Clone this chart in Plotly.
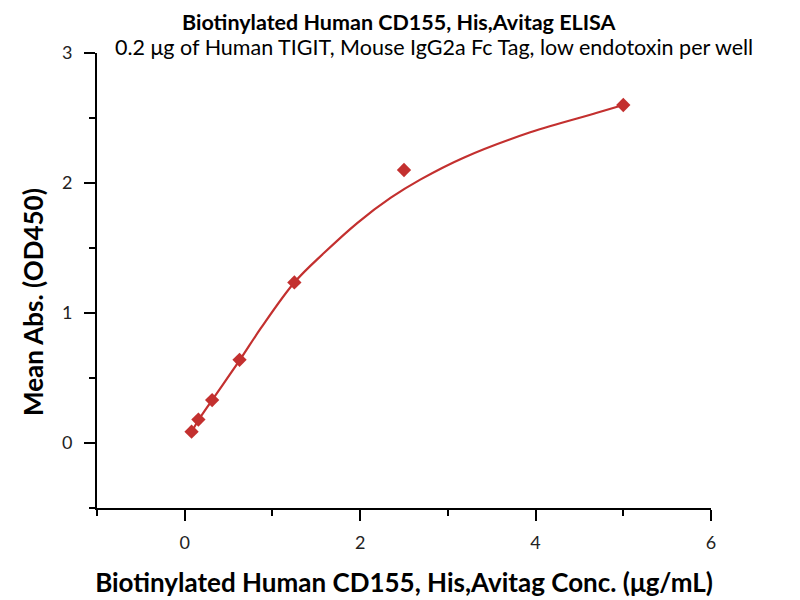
import plotly.graph_objects as go

# measured points (conc in ug/mL, OD450)
conc = [0.078, 0.156, 0.3125, 0.625, 1.25, 2.5, 5.0]
od450 = [0.087, 0.18, 0.33, 0.64, 1.235, 2.10, 2.60]

# fitted curve
fit_x = [0.078, 0.156, 0.3125, 0.625, 0.87, 1.25, 1.59, 1.97, 2.35, 2.69, 3.18, 3.94, 4.70, 5.0]
fit_y = [0.085, 0.175, 0.33, 0.635, 0.885, 1.235, 1.463, 1.694, 1.887, 2.028, 2.195, 2.39, 2.54, 2.60]

red = "#C3302F"
font = "Lato"

fig = go.Figure()
fig.add_trace(go.Scatter(x=fit_x, y=fit_y, mode="lines", line=dict(color=red, width=2.2, shape="spline"),
                         hoverinfo="skip"))
fig.add_trace(go.Scatter(x=conc, y=od450, mode="markers",
                         marker=dict(symbol="diamond", size=11, color=red)))

axis_common = dict(showline=True, linecolor="black", linewidth=2, ticks="outside", tickwidth=2,
                   ticklen=11, tickcolor="black", showgrid=False, zeroline=False,
                   tickfont=dict(family=font, size=18, color="#222"))

fig.update_xaxes(range=[-1, 6], tick0=0, dtick=2, ticklabelstandoff=6,
                 minor=dict(dtick=1, ticks="outside", ticklen=6, tickwidth=2, tickcolor="black"),
                 title=dict(text="<b>Biotinylated Human CD155, His,Avitag Conc. (μg/mL)</b>",
                            font=dict(family=font, size=26, color="black"), standoff=22),
                 **axis_common)
fig.update_yaxes(range=[-0.5, 3], tick0=0, dtick=1, ticklabelstandoff=8,
                 minor=dict(dtick=0.5, ticks="outside", ticklen=6, tickwidth=2, tickcolor="black"),
                 **axis_common)

# y title as annotation, it sits a bit below the plot centre in the original
fig.add_annotation(text="<b>Mean Abs. (OD450)</b>", xref="paper", yref="paper", x=-0.104, y=0.453,
                   textangle=-90, showarrow=False, xanchor="center", yanchor="middle",
                   font=dict(family=font, size=26, color="black"))
fig.add_annotation(text="<b>Biotinylated Human CD155, His,Avitag ELISA</b>", xref="paper", yref="paper",
                   x=0.493, y=1.0, yshift=31, showarrow=False, yanchor="middle", borderpad=0,
                   font=dict(family=font, size=21.5, color="black"))
fig.add_annotation(text="0.2 μg of Human TIGIT, Mouse IgG2a Fc Tag, low endotoxin per well", xref="paper",
                   yref="paper", x=0.549, y=1.0, yshift=6, showarrow=False, yanchor="middle",
                   font=dict(family=font, size=21.5, color="black"))

fig.update_layout(width=800, height=600, margin=dict(l=89, r=97, t=45, b=100),
                  plot_bgcolor="white", paper_bgcolor="white", showlegend=False)

fig.write_html("out.html")
